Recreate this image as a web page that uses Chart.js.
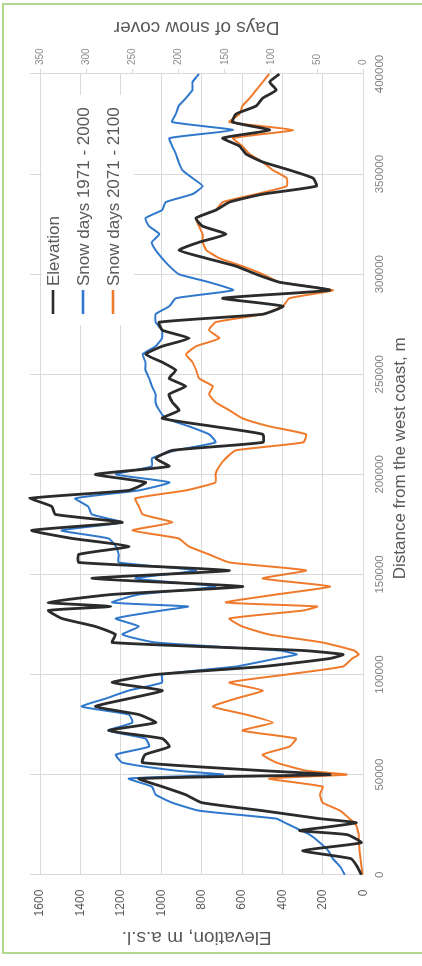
<!DOCTYPE html>
<html>
<head>
<meta charset="utf-8">
<script src="https://cdn.jsdelivr.net/npm/chart.js@4.4.1/dist/chart.umd.min.js"></script>
<style>
  html, body { margin: 0; padding: 0; background: #fff; width: 422px; height: 966px; overflow: hidden; }
  #frame { position: absolute; left: 2px; top: 3px; width: 440px; height: 951px; border: 2px solid #b4d78f; box-sizing: border-box; }
  /* the profile is laid out landscape and turned a quarter turn anticlockwise */
  #wrap { position: absolute; left: 0; top: 0; width: 966px; height: 422px; transform-origin: 0 0; transform: translate(0, 966px) rotate(-90deg); }
</style>
</head>
<body>
<div id="frame"></div>
<div id="wrap"><canvas id="profile" width="966" height="422"></canvas></div>
<script>
// Distance from the west coast (m)
const distance = [
  0, 4000, 8000, 12000, 16000, 20000, 22000, 24000, 26000, 28000, 32000, 36000, 40000, 44000, 48000, 50000, 52000, 56000, 60000, 64000,
  68000, 72000, 76000, 80000, 84000, 88000, 92000, 96000, 100000, 104000, 108000, 110000, 112000, 116000, 120000, 124000,
  128000, 132000, 134000, 136000, 140000, 144000, 148000, 152000, 156000, 160000, 164000, 168000, 172000, 176000, 180000, 184000,
  188000, 192000, 196000, 200000, 204000, 208000, 212000, 216000, 220000, 224000, 228000, 232000, 236000, 240000, 244000,
  248000, 252000, 256000, 260000, 264000, 268000, 272000, 276000, 280000, 284000, 288000, 292000, 296000, 300000, 304000,
  308000, 312000, 316000, 320000, 324000, 328000, 332000, 336000, 340000, 344000, 348000, 352000, 356000, 360000, 364000,
  368000, 372000, 376000, 380000, 384000, 388000, 392000, 396000, 400000
];

// Elevation, m a.s.l.
const elevation = [
  10, 30, 60, 300, 10, 80, 315, 165, 35, 215, 500, 800, 880, 995, 1110, 166, 500, 1094, 1080, 960,
  995, 1260, 1028, 1111, 1326, 1160, 995, 1243, 1028, 497, 166, 100, 298, 1243, 1227, 1326,
  1492, 1558, 1250, 1560, 1243, 597, 1343, 663, 1409, 1409, 1160, 1442, 1641, 1194, 1525, 1542,
  1650, 1160, 1078, 1326, 962, 1028, 945, 497, 497, 746, 995, 912, 945, 962, 879,
  962, 928, 995, 1078, 995, 862, 995, 1011, 497, 398, 696, 166, 415, 531, 630,
  779, 912, 812, 680, 796, 829, 730, 663, 497, 232, 249, 365, 497, 580, 613,
  696, 464, 647, 630, 531, 497, 431, 464, 415
];

// Days of snow cover, 1971 - 2000
const snow1971 = [
  20, 25, 33, 38, 47, 58, 67, 76, 85, 94, 178, 207, 225, 229, 254, 152, 203, 261, 268, 232,
  236, 276, 250, 254, 305, 279, 254, 218, 218, 138, 94, 72, 91, 225, 261, 243,
  268, 218, 190, 272, 243, 160, 247, 181, 265, 265, 268, 276, 327, 261, 294, 298,
  312, 243, 210, 268, 229, 229, 203, 160, 167, 189, 214, 221, 225, 225, 229,
  232, 236, 236, 239, 225, 218, 218, 225, 225, 210, 203, 141, 167, 200, 210,
  218, 225, 229, 221, 232, 236, 218, 214, 185, 174, 185, 196, 200, 203, 207,
  210, 141, 207, 203, 200, 192, 185, 185, 178
];

// Days of snow cover, 2071 - 2100
const snow2071 = [
  1, 2, 3, 4, 5, 5, 6, 7, 10, 15, 25, 44, 47, 44, 102, 18, 62, 94, 109, 80,
  73, 131, 98, 127, 163, 138, 109, 145, 83, 22, 12, 5, 10, 44, 102, 131,
  145, 65, 50, 149, 94, 36, 109, 62, 145, 167, 189, 200, 250, 207, 239, 243,
  247, 192, 160, 160, 156, 149, 138, 65, 62, 102, 131, 145, 160, 167, 163,
  178, 181, 185, 192, 181, 156, 167, 160, 109, 87, 80, 33, 91, 109, 131,
  156, 170, 174, 174, 178, 181, 160, 152, 116, 83, 83, 98, 109, 123, 131,
  141, 76, 145, 134, 131, 123, 116, 109, 102
];

const seriesNames = ['Elevation', 'Snow days 1971 - 2000', 'Snow days 2071 - 2100'];
const FONT = "'Liberation Sans', Arial, sans-serif";
const GRID = '#d9d9d9';
const TEXT = '#595959';

const points = vals => distance.map((d, i) => ({ x: d, y: vals[i] }));

// Legend box inside the plot, and the two axis titles that Chart.js cannot place this way
const overlay = {
  id: 'overlay',
  afterDraw(chart) {
    const ctx = chart.ctx;
    const area = chart.chartArea;
    ctx.save();
    // legend
    const bx = area.right - 251, by = area.top + 12;
    ctx.fillStyle = '#fff';
    ctx.fillRect(bx, by, 230, 92);
    chart.data.datasets.forEach((ds, i) => {
      const y = by + 11 + i * 30;
      ctx.strokeStyle = ds.borderColor;
      ctx.lineWidth = 2.6;
      ctx.beginPath();
      ctx.moveTo(bx + 11, y);
      ctx.lineTo(bx + 35, y);
      ctx.stroke();
      ctx.fillStyle = TEXT;
      ctx.font = '17px ' + FONT;
      ctx.textAlign = 'left';
      ctx.textBaseline = 'middle';
      ctx.fillText(ds.label, bx + 39, y + 1);
    });
    ctx.fillStyle = TEXT;
    ctx.textAlign = 'center';
    ctx.textBaseline = 'middle';
    // distance axis title
    ctx.font = '17px ' + FONT;
    ctx.fillText('Distance from the west coast, m', (area.left + area.right) / 2 + 16, chart.height - 22);
    // days axis title, reading upwards like the elevation title
    const days = chart.scales.yDays;
    ctx.translate(days.right - 27, (area.top + area.bottom) / 2);
    ctx.rotate(-Math.PI / 2);
    ctx.font = '19px ' + FONT;
    ctx.fillText('Days of snow cover', 0, 0);
    ctx.restore();
  }
};

new Chart(document.getElementById('profile'), {
  type: 'line',
  data: {
    datasets: [
      { label: seriesNames[0], data: points(elevation), yAxisID: 'yElev', borderColor: '#2b2b2b', borderWidth: 2.8 },
      { label: seriesNames[1], data: points(snow1971), yAxisID: 'yDays', borderColor: '#2f78cc', borderWidth: 2 },
      { label: seriesNames[2], data: points(snow2071), yAxisID: 'yDays', borderColor: '#f07a2c', borderWidth: 2 }
    ]
  },
  options: {
    responsive: false,
    devicePixelRatio: 1,
    animation: false,
    layout: { padding: { top: 30, left: 0, right: 0, bottom: 0 } },
    elements: { point: { radius: 0 }, line: { tension: 0.15 } },
    datasets: { line: { clip: false } },
    plugins: { legend: { display: false }, tooltip: { enabled: false } },
    scales: {
      x: {
        type: 'linear', position: 'bottom', min: 0, max: 400000,
        ticks: { stepSize: 50000, padding: 9.5, color: '#7f7f7f', font: { size: 11.5, family: FONT }, maxRotation: 0, autoSkip: false, callback: v => String(v) },
        grid: { color: GRID, drawTicks: false },
        border: { color: GRID },
        afterFit: s => { s.height = 58.7; }
      },
      yElev: {
        type: 'linear', position: 'left', min: 0, max: 1650,
        ticks: { stepSize: 200, includeBounds: false, padding: 15, color: TEXT, font: { size: 12, family: FONT }, callback: v => String(v) },
        grid: { color: GRID, drawTicks: false },
        border: { color: GRID },
        title: { display: true, text: 'Elevation, m a.s.l.', color: TEXT, font: { size: 19, family: FONT }, padding: { top: 17.6, bottom: 0 } },
        afterFit: s => { s.width = 91.3; }
      },
      yDays: {
        type: 'linear', position: 'right', min: 0, max: 361,
        ticks: { stepSize: 50, includeBounds: false, padding: 4, color: '#8c8c8c', font: { size: 10, family: FONT }, callback: v => String(v) },
        grid: { drawOnChartArea: false, color: GRID, tickLength: 5 },
        border: { color: GRID },
        afterFit: s => { s.width = 74; }
      }
    }
  },
  plugins: [overlay]
});
</script>
</body>
</html>
